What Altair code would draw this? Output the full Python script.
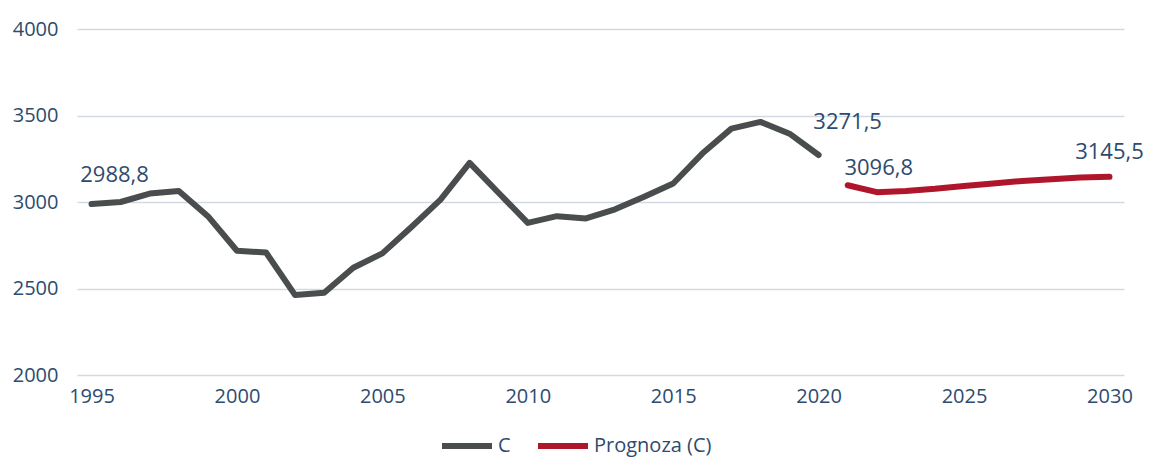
import altair as alt
import pandas as pd

years_hist = list(range(1995, 2021))
values_hist = [2988.8, 3000, 3049, 3064, 2918, 2718, 2708, 2462, 2475, 2620,
               2703, 2856, 3014, 3226, 3052, 2879, 2918, 2905, 2958, 3030,
               3107, 3280, 3424, 3463, 3395, 3271.5]
years_fc = list(range(2021, 2031))
values_fc = [3096.8, 3057, 3064, 3076, 3093, 3107, 3122, 3132, 3141, 3145.5]

series_names = ["C", "Prognoza (C)"]
series_colors = ["#4A4D4E", "#B0162B"]
x_ticks = [1995, 2000, 2005, 2010, 2015, 2020, 2025, 2030]
y_ticks = [2000, 2500, 3000, 3500, 4000]

df = pd.DataFrame(
    {"year": years_hist + years_fc,
     "value": values_hist + values_fc,
     "series": [series_names[0]] * len(years_hist) + [series_names[1]] * len(years_fc)}
)

FONT = "Open Sans"
TXT = "#2D4B6E"

x = alt.X("year:Q", scale=alt.Scale(domain=[1994.5, 2030.5], nice=False, zero=False),
          axis=alt.Axis(values=x_ticks, format="d", title=None, grid=False, domain=False,
                        ticks=False, labelFontSize=20, labelColor=TXT, labelFont=FONT,
                        labelPadding=11, labelFlush=False))
y = alt.Y("value:Q", scale=alt.Scale(domain=[2000, 4000], nice=False, zero=False),
          axis=alt.Axis(values=y_ticks, format="d", title=None, domain=False, ticks=False,
                        gridColor="#D2D9E4", gridWidth=1.3, labelFontSize=20,
                        labelColor=TXT, labelFont=FONT, labelPadding=19))

lines = alt.Chart(df).mark_line(strokeWidth=6, strokeCap="round", strokeJoin="round").encode(
    x=x, y=y,
    color=alt.Color("series:N",
                    scale=alt.Scale(domain=series_names, range=series_colors),
                    legend=alt.Legend(title=None, orient="none", direction="horizontal",
                                      legendX=362, legendY=389,
                                      symbolType="stroke", symbolSize=2500,
                                      symbolStrokeWidth=6, labelFontSize=20,
                                      labelFont=FONT, labelColor=TXT,
                                      columnPadding=15, labelOffset=3)),
)

def label(yr, val, dx, dy):
    d = pd.DataFrame({"year": [yr], "value": [val],
                      "txt": [f"{val:.1f}".replace(".", ",")]})
    return alt.Chart(d).mark_text(fontSize=22, font=FONT, color=TXT, dx=dx, dy=dy).encode(
        x="year:Q", y="value:Q", text="txt:N")

labels = [
    label(years_hist[0], values_hist[0], 23, -29),
    label(years_hist[-1], values_hist[-1], 29, -33),
    label(years_fc[0], values_fc[0], 31, -17),
    label(years_fc[-1], values_fc[-1], 0, -25),
]

chart = alt.layer(lines, *labels).properties(
    width=1047, height=346,
    padding={"left": 77, "top": 29, "right": 25, "bottom": 82},
    autosize=alt.AutoSizeParams(type="none"),
    background="white",
).configure_view(strokeWidth=0, stroke="transparent")

chart.save("out.html", embed_options={"renderer": "svg", "actions": False})
